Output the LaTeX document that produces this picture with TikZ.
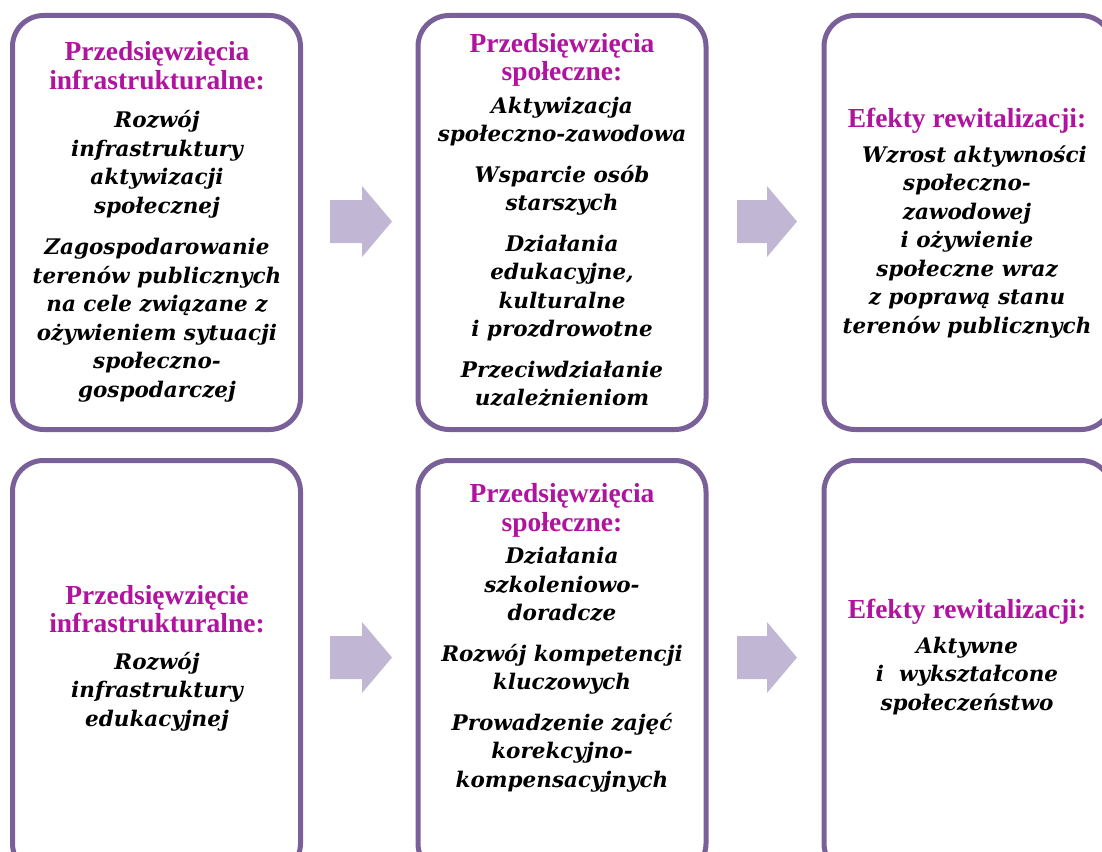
\documentclass[tikz,border=0pt]{standalone}
\usepackage{fontspec}
\setmainfont{Liberation Serif}
\newfontfamily\bodyfont{DejaVu Serif}
\definecolor{boxline}{HTML}{7A6098}
\definecolor{arrowfill}{HTML}{C1B7D4}
\definecolor{headcol}{HTML}{B0139D}
\tikzset{
  box/.style={draw=boxline, line width=5pt, rounded corners=31pt, fill=white,
    minimum width=288pt, minimum height=414pt, inner sep=0pt},
  txt/.style={align=center, inner sep=0pt,
    font=\bodyfont\bfseries\itshape\fontsize{21.5}{28.5}\selectfont},
  blockarrow/.style={fill=arrowfill},
}
\newcommand{\hd}[1]{{\normalfont\rmfamily\bfseries\fontsize{27.5}{28}\selectfont\color{headcol}#1}}
\begin{document}
\begin{tikzpicture}[x=1pt,y=-1pt]
\useasboundingbox (0,0) rectangle (1102,851);
% boxes
\node[box] (b1) at (156.5,222.5) {};
\node[box] (b2) at (562,222.5) {};
\node[box] (b3) at (968,222.5) {};
\node[box] (b4) at (156.5,667.5) {};
\node[box] (b5) at (562,667.5) {};
\node[box] (b6) at (968,667.5) {};
% arrows
\coordinate (a1) at (330,221.5);
\coordinate (a2) at (737,221.5);
\coordinate (a3) at (330,657.5);
\coordinate (a4) at (737,657.5);
\foreach \x/\y/\w in {330/221.5/32,330/657.5/32,737/221.5/30,737/657.5/30}{
  \fill[blockarrow] (\x,\y-21.5) -- (\x+\w,\y-21.5) -- (\x+\w,\y-35.5) -- (\x+\w+30,\y)
    -- (\x+\w,\y+35.5) -- (\x+\w,\y+21.5) -- (\x,\y+21.5) -- cycle;
}
% texts
\node[txt] (t1) at (157,222) {\hd{Przedsięwzięcia}\\\hd{infrastrukturalne:}\\[10pt]
Rozwój\\infrastruktury\\aktywizacji\\społecznej\\[13pt]
Zagospodarowanie\\terenów publicznych\\na cele związane z\\ożywieniem sytuacji\\społeczno-\\gospodarczej};
\node[txt] (t2) at (562,220) {\hd{Przedsięwzięcia}\\\hd{społeczne:}\\[4pt]
Aktywizacja\\społeczno-zawodowa\\[12pt]
Wsparcie osób\\starszych\\[12pt]
Działania\\edukacyjne,\\kulturalne\\i prozdrowotne\\[12pt]
Przeciwdziałanie\\uzależnieniom};
\node[txt] (t3) at (967,223) {\hd{Efekty rewitalizacji:}\\[6pt]
\ \ Wzrost aktywności\\społeczno-\\zawodowej\\i ożywienie\\społeczne wraz\\z poprawą stanu\\terenów publicznych};
\node[txt] (t4) at (157,658) {\hd{Przedsięwzięcie}\\\hd{infrastrukturalne:}\\[8pt]
Rozwój\\infrastruktury\\edukacyjnej};
\node[txt] (t5) at (562,638) {\hd{Przedsięwzięcia}\\\hd{społeczne:}\\[4pt]
Działania\\szkoleniowo-\\doradcze\\[12pt]
Rozwój kompetencji\\kluczowych\\[12pt]
Prowadzenie zajęć\\korekcyjno-\\kompensacyjnych};
\node[txt] (t6) at (967,657) {\hd{Efekty rewitalizacji:}\\[6pt]
Aktywne\\i~~wykształcone\\społeczeństwo};
\end{tikzpicture}
\end{document}
